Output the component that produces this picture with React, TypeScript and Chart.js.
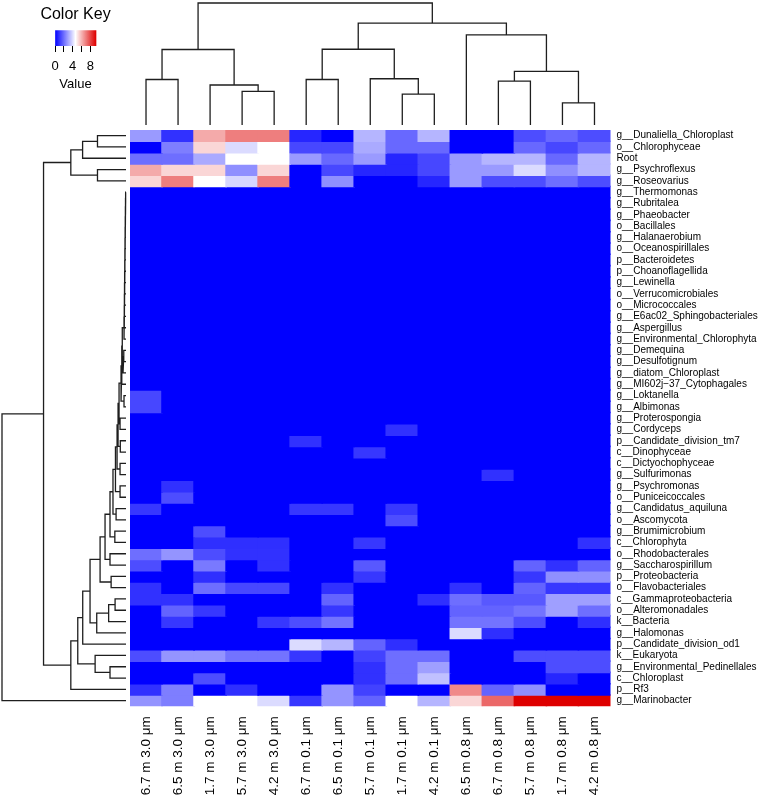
import React, { useEffect, useRef } from 'react';
import { Chart, registerables } from 'chart.js';

Chart.register(...registerables);

// ---------------- DATA ----------------
const colLabels: string[] = [
  '6.7 m 3.0 μm', '6.5 m 3.0 μm', '1.7 m 3.0 μm', '5.7 m 3.0 μm', '4.2 m 3.0 μm',
  '6.7 m 0.1 μm', '6.5 m 0.1 μm', '5.7 m 0.1 μm', '1.7 m 0.1 μm', '4.2 m 0.1 μm',
  '6.5 m 0.8 μm', '6.7 m 0.8 μm', '5.7 m 0.8 μm', '1.7 m 0.8 μm', '4.2 m 0.8 μm',
];

const rowLabels: string[] = [
  'g__Dunaliella_Chloroplast', 'o__Chlorophyceae', 'Root', 'g__Psychroflexus', 'g__Roseovarius',
  'g__Thermomonas', 'g__Rubritalea', 'g__Phaeobacter', 'o__Bacillales', 'g__Halanaerobium',
  'o__Oceanospirillales', 'p__Bacteroidetes', 'p__Choanoflagellida', 'g__Lewinella', 'o__Verrucomicrobiales',
  'o__Micrococcales', 'g__E6ac02_Sphingobacteriales', 'g__Aspergillus', 'g__Environmental_Chlorophyta', 'g__Demequina',
  'g__Desulfotignum', 'g__diatom_Chloroplast', 'g__MI602j\u221237_Cytophagales', 'g__Loktanella', 'g__Albimonas',
  'g__Proterospongia', 'g__Cordyceps', 'p__Candidate_division_tm7', 'c__Dinophyceae', 'c__Dictyochophyceae',
  'g__Sulfurimonas', 'g__Psychromonas', 'o__Puniceicoccales', 'g__Candidatus_aquiluna', 'o__Ascomycota',
  'g__Brumimicrobium', 'c__Chlorophyta', 'o__Rhodobacterales', 'g__Saccharospirillum', 'p__Proteobacteria',
  'o__Flavobacteriales', 'c__Gammaproteobacteria', 'o__Alteromonadales', 'k__Bacteria', 'g__Halomonas',
  'p__Candidate_division_od1', 'k__Eukaryota', 'g__Environmental_Pedinellales', 'c__Chloroplast', 'p__Rf3',
  'g__Marinobacter',
];

// one row per taxon, one value per sample (columns in colLabels order)
const cellValues: number[][] = [
  [2.8, 0.9, 6.2, 7.0, 7.0, 0.7, 0, 3.3, 1.9, 3.3, 0, 0, 1.4, 1.9, 1.4],
  [0, 2.3, 5.4, 4.0, 4.65, 1.3, 1.3, 3.1, 1.9, 1.9, 0, 0, 1.9, 1.3, 1.9],
  [2.0, 2.0, 3.1, 4.65, 4.65, 2.8, 1.9, 2.8, 0.7, 1.3, 2.8, 3.3, 3.3, 1.9, 3.3],
  [6.2, 5.4, 5.4, 2.6, 5.4, 0, 1.3, 0.7, 0.7, 1.3, 2.8, 2.8, 4.0, 2.6, 3.3],
  [5.4, 7.0, 4.65, 3.9, 7.0, 0, 2.6, 0, 0, 0.7, 2.8, 1.4, 1.4, 2.0, 1.4],
  [0, 0, 0, 0, 0, 0, 0, 0, 0, 0, 0, 0, 0, 0, 0],
  [0, 0, 0, 0, 0, 0, 0, 0, 0, 0, 0, 0, 0, 0, 0],
  [0, 0, 0, 0, 0, 0, 0, 0, 0, 0, 0, 0, 0, 0, 0],
  [0, 0, 0, 0, 0, 0, 0, 0, 0, 0, 0, 0, 0, 0, 0],
  [0, 0, 0, 0, 0, 0, 0, 0, 0, 0, 0, 0, 0, 0, 0],
  [0, 0, 0, 0, 0, 0, 0, 0, 0, 0, 0, 0, 0, 0, 0],
  [0, 0, 0, 0, 0, 0, 0, 0, 0, 0, 0, 0, 0, 0, 0],
  [0, 0, 0, 0, 0, 0, 0, 0, 0, 0, 0, 0, 0, 0, 0],
  [0, 0, 0, 0, 0, 0, 0, 0, 0, 0, 0, 0, 0, 0, 0],
  [0, 0, 0, 0, 0, 0, 0, 0, 0, 0, 0, 0, 0, 0, 0],
  [0, 0, 0, 0, 0, 0, 0, 0, 0, 0, 0, 0, 0, 0, 0],
  [0, 0, 0, 0, 0, 0, 0, 0, 0, 0, 0, 0, 0, 0, 0],
  [0, 0, 0, 0, 0, 0, 0, 0, 0, 0, 0, 0, 0, 0, 0],
  [0, 0, 0, 0, 0, 0, 0, 0, 0, 0, 0, 0, 0, 0, 0],
  [0, 0, 0, 0, 0, 0, 0, 0, 0, 0, 0, 0, 0, 0, 0],
  [0, 0, 0, 0, 0, 0, 0, 0, 0, 0, 0, 0, 0, 0, 0],
  [0, 0, 0, 0, 0, 0, 0, 0, 0, 0, 0, 0, 0, 0, 0],
  [0, 0, 0, 0, 0, 0, 0, 0, 0, 0, 0, 0, 0, 0, 0],
  [1.3, 0, 0, 0, 0, 0, 0, 0, 0, 0, 0, 0, 0, 0, 0],
  [1.3, 0, 0, 0, 0, 0, 0, 0, 0, 0, 0, 0, 0, 0, 0],
  [0, 0, 0, 0, 0, 0, 0, 0, 0, 0, 0, 0, 0, 0, 0],
  [0, 0, 0, 0, 0, 0, 0, 0, 0.9, 0, 0, 0, 0, 0, 0],
  [0, 0, 0, 0, 0, 0.9, 0, 0, 0, 0, 0, 0, 0, 0, 0],
  [0, 0, 0, 0, 0, 0, 0, 1.0, 0, 0, 0, 0, 0, 0, 0],
  [0, 0, 0, 0, 0, 0, 0, 0, 0, 0, 0, 0, 0, 0, 0],
  [0, 0, 0, 0, 0, 0, 0, 0, 0, 0, 0, 0.9, 0, 0, 0],
  [0, 0.9, 0, 0, 0, 0, 0, 0, 0, 0, 0, 0, 0, 0, 0],
  [0, 1.4, 0, 0, 0, 0, 0, 0, 0, 0, 0, 0, 0, 0, 0],
  [1.0, 0, 0, 0, 0, 1.0, 1.0, 0, 1.0, 0, 0, 0, 0, 0, 0],
  [0, 0, 0, 0, 0, 0, 0, 0, 1.4, 0, 0, 0, 0, 0, 0],
  [0, 0, 1.4, 0, 0, 0, 0, 0, 0, 0, 0, 0, 0, 0, 0],
  [0, 0, 0.85, 0.85, 0.85, 0, 0, 1.0, 0, 0, 0, 0, 0, 0, 0.9],
  [2.0, 2.7, 1.4, 0.9, 0.9, 0, 0, 0, 0, 0, 0, 0, 0, 0, 0],
  [1.4, 0, 2.2, 0, 0.9, 0, 0, 1.6, 0, 0, 0, 0, 1.8, 0.9, 1.8],
  [0, 0, 0.85, 0, 0, 0, 0, 1.0, 0, 0, 0, 0, 1.0, 2.6, 2.6],
  [0.9, 0, 2.0, 1.3, 1.3, 0, 0.9, 0, 0, 0, 0.9, 0, 1.8, 1.0, 1.0],
  [0.9, 0.9, 0, 0, 0, 0, 1.8, 0, 0, 0.85, 2.0, 1.6, 1.6, 2.9, 2.9],
  [0, 1.8, 1.0, 0, 0, 0, 1.0, 0, 0, 0, 1.8, 1.8, 2.1, 2.9, 2.0],
  [0, 1.0, 0, 0, 1.0, 1.4, 2.1, 0, 0, 0, 2.1, 2.1, 1.4, 0, 0.85],
  [0, 0, 0, 0, 0, 0, 0, 0, 0, 0, 4.0, 0.85, 0, 0, 0],
  [0, 0, 0, 0, 0, 4.0, 3.3, 1.8, 0.85, 0, 0, 0, 0, 0, 0],
  [1.4, 2.7, 2.7, 2.1, 2.1, 1.0, 0, 1.2, 2.0, 2.0, 0, 0, 1.4, 1.4, 1.4],
  [0, 0, 0, 0, 0, 0, 0, 0.9, 2.0, 2.9, 0, 0, 0, 1.4, 1.4],
  [0, 0, 1.4, 0, 0, 0, 0, 0.9, 2.0, 3.5, 0, 0, 0, 0.7, 0],
  [0.9, 2.3, 0, 0.85, 0, 0, 2.7, 1.2, 0, 0, 6.8, 1.8, 2.6, 0, 0],
  [2.7, 2.3, 4.65, 4.65, 4.0, 1.0, 2.7, 1.8, 4.65, 3.3, 5.4, 7.4, 9.3, 9.3, 9.3],
];

// hclust-style merges: [a, b, height]; negative = leaf (1-based), positive = earlier merge (1-based)
const colMerges: [number, number, number][] = [
  [-1, -2, 37.3], [-4, -5, 27.5], [-3, 2, 32.8], [1, 3, 61.9],
  [-6, -7, 37.3], [-9, -10, 25.3], [-8, 6, 37.9], [5, 7, 62.1],
  [-12, -13, 36.0], [-14, -15, 18.1], [9, 10, 44.0], [-11, 11, 73.9],
  [8, 12, 83.5], [4, 13, 100],
];

const rowMerges: [number, number, number][] = [
  [-1, -2, 23], [1, -3, 35], [-4, -5, 23], [2, 3, 44.5],
  [-6, -7, 0.3], [5, -8, 0.4], [6, -9, 0.5], [7, -10, 0.6], [8, -11, 0.7],
  [9, -12, 0.8], [10, -13, 0.9], [11, -14, 1.0], [12, -15, 1.1], [13, -16, 1.2],
  [14, -17, 1.3], [15, -18, 1.4], [16, -19, 1.6], [-20, -21, 1.8], [18, -22, 2.4],
  [17, 19, 3.0], [20, -23, 3.4], [-24, -25, 1.6], [21, 22, 4.0], [-26, -27, 4.8],
  [23, 24, 5.6], [-28, -29, 4.6], [25, 26, 6.4], [-30, -31, 4.8], [27, 28, 7.2],
  [-32, -33, 4.8], [29, 30, 8.5], [-34, -35, 8.0], [31, 32, 10.5], [-36, -37, 9.0],
  [33, 34, 12.9], [-38, -39, 12.9], [35, 36, 16.9], [-40, -41, 12.0], [37, 38, 20.9],
  [-42, -43, 8.8], [40, -44, 14.0], [41, -45, 23.6], [39, 42, 29.0], [43, -46, 34.9],
  [-48, -49, 12.9], [-47, 45, 24.9], [44, 46, 38.9], [47, -50, 44.5], [4, 48, 66.5],
  [49, -51, 100],
];

const keyTicks: number[] = [0, 2, 4, 6, 8];
const keyTickLabels: string[] = ['0', '', '4', '', '8'];
const VMAX = 9.3;

// ---------------- STYLE / GEOMETRY ----------------
const W = 777;
const H = 802;
const HEAT_LEFT = 130;
const HEAT_RIGHT = 610.5;
const HEAT_TOP = 130;
const HEAT_BOTTOM = 706.3;
const FONT = '"Liberation Sans", Arial, Helvetica, sans-serif';
const nCols = colLabels.length;
const nRows = rowLabels.length;
const colPx = (HEAT_RIGHT - HEAT_LEFT) / nCols;
const rowPx = (HEAT_BOTTOM - HEAT_TOP) / nRows;

// colour key canvas placement (page px) and key bar position inside it
const KEY_LEFT = 21;
const KEY_W = 109;
const KEY_H = 100;
const KEY_BAR_L = 55 - KEY_LEFT;
const KEY_BAR_R = 96 - KEY_LEFT;
const keyPxPerUnit = (KEY_BAR_R - KEY_BAR_L) / VMAX;

function heatColor(v: number): string {
  const t = Math.max(0, Math.min(1, v / VMAX));
  if (t <= 0.5) {
    const c = Math.round(255 * (t / 0.5));
    return `rgb(${c},${c},255)`;
  }
  const s = (t - 0.5) / 0.5;
  const r = Math.round(255 - 33 * s);
  const gb = Math.round(255 * (1 - s));
  return `rgb(${r},${gb},${gb})`;
}

type Seg = [number, number, number, number, number];
function dendroSegments(merges: [number, number, number][]): Seg[] {
  const pos: number[] = [];
  const hgt: number[] = [];
  const segs: Seg[] = [];
  const get = (id: number) => (id < 0 ? { p: -id - 0.5, h: 0 } : { p: pos[id - 1], h: hgt[id - 1] });
  merges.forEach(([a, b, h], i) => {
    const A = get(a);
    const B = get(b);
    pos[i] = (A.p + B.p) / 2;
    hgt[i] = h;
    segs.push([A.p, A.h, B.p, B.h, h]);
  });
  return segs;
}

// top dendrogram: height 0 -> y pixel 125, 100 -> y pixel 3
const topY = (h: number) => (125 - (h / 100) * 122 - HEAT_TOP) / rowPx;
// left dendrogram: height 0 -> x pixel 126, 100 -> x pixel 2
const leftX = (h: number) => (126 - (h / 100) * 124 - HEAT_LEFT) / colPx;

function topPoints() {
  const pts: { x: number | null; y: number | null }[] = [];
  dendroSegments(colMerges).forEach(([p1, h1, p2, h2, h]) => {
    pts.push({ x: p1, y: topY(h1) }, { x: p1, y: topY(h) }, { x: p2, y: topY(h) }, { x: p2, y: topY(h2) }, { x: null, y: null });
  });
  return pts;
}
function leftPoints() {
  const pts: { x: number | null; y: number | null }[] = [];
  dendroSegments(rowMerges).forEach(([p1, h1, p2, h2, h]) => {
    pts.push({ x: leftX(h1), y: p1 }, { x: leftX(h), y: p1 }, { x: leftX(h), y: p2 }, { x: leftX(h2), y: p2 }, { x: null, y: null });
  });
  return pts;
}

export default function App() {
  const mainRef = useRef<HTMLCanvasElement>(null);
  const keyRef = useRef<HTMLCanvasElement>(null);

  useEffect(() => {
    const heatDatasets: any[] = rowLabels.map((_, r) => ({
      type: 'bar',
      data: colLabels.map((__, c) => ({ x: c + 0.5, y: [r, r + 1] })),
      backgroundColor: cellValues[r].map(heatColor),
      borderWidth: 0,
      barPercentage: 1,
      categoryPercentage: 1,
      grouped: false,
      inflateAmount: 0.8,
    }));
    const lineStyle = {
      type: 'line',
      borderColor: '#1e1e1e',
      borderWidth: 1.3,
      pointRadius: 0,
      pointHoverRadius: 0,
      spanGaps: false,
      clip: false,
      fill: false,
      tension: 0,
    };
    const main = new Chart(mainRef.current!, {
      type: 'bar',
      data: {
        datasets: [
          ...heatDatasets,
          { ...lineStyle, data: topPoints() },
          { ...lineStyle, data: leftPoints() },
        ] as any,
      },
      options: {
        animation: false,
        responsive: false,
        events: [],
        layout: { padding: { left: HEAT_LEFT, top: HEAT_TOP, right: 0, bottom: 0 } },
        plugins: { legend: { display: false }, tooltip: { enabled: false }, title: { display: false } },
        scales: {
          x: {
            type: 'linear',
            min: 0,
            max: nCols,
            offset: false,
            position: 'bottom',
            grid: { display: false, drawTicks: false, offset: false },
            border: { display: false },
            afterBuildTicks: (axis: any) => {
              axis.ticks = colLabels.map((_, i) => ({ value: i + 0.5 }));
            },
            afterFit: (axis: any) => {
              axis.height = H - HEAT_BOTTOM;
            },
            ticks: {
              autoSkip: false,
              minRotation: 90,
              maxRotation: 90,
              padding: 10,
              color: '#000',
              font: { family: FONT, size: 13.5 },
              callback: (_v: any, i: number) => colLabels[i],
            },
          },
          y: {
            type: 'linear',
            min: 0,
            max: nRows,
            offset: false,
            reverse: true,
            position: 'right',
            grid: { display: false, drawTicks: false },
            border: { display: false },
            afterBuildTicks: (axis: any) => {
              axis.ticks = rowLabels.map((_, i) => ({ value: i + 0.5 }));
            },
            afterFit: (axis: any) => {
              axis.width = W - HEAT_RIGHT;
            },
            ticks: {
              autoSkip: false,
              padding: 6,
              color: '#000',
              font: { family: FONT, size: 10 },
              callback: (_v: any, i: number) => rowLabels[i],
            },
          },
        },
      } as any,
    });

    const key = new Chart(keyRef.current!, {
      type: 'bar',
      data: {
        labels: [''],
        datasets: [
          {
            data: [[0, VMAX]],
            backgroundColor: (ctx: any) => {
              const chart = ctx.chart;
              const xs = chart.scales.x;
              if (!xs || !chart.chartArea) return heatColor(0);
              const x0 = xs.getPixelForValue(0);
              const x1 = xs.getPixelForValue(VMAX);
              const g = chart.ctx.createLinearGradient(x0, 0, x1, 0);
              g.addColorStop(0, heatColor(0));
              g.addColorStop(0.5, heatColor(VMAX / 2));
              g.addColorStop(1, heatColor(VMAX));
              return g;
            },
            borderWidth: 0,
            barPercentage: 1,
            categoryPercentage: 1,
          },
        ] as any,
      },
      options: {
        indexAxis: 'y',
        animation: false,
        responsive: false,
        events: [],
        layout: { padding: { left: 0, right: 0, top: 0, bottom: 8 } },
        plugins: {
          legend: { display: false },
          tooltip: { enabled: false },
          title: {
            display: true,
            text: 'Color Key',
            color: '#000',
            font: { family: FONT, size: 16, weight: 'normal' },
            padding: { top: 5, bottom: 6 },
          },
        },
        scales: {
          x: {
            type: 'linear',
            min: -KEY_BAR_L / keyPxPerUnit,
            max: VMAX + (KEY_W - KEY_BAR_R) / keyPxPerUnit,
            offset: false,
            grid: { display: true, drawOnChartArea: false, drawTicks: true, tickLength: 6, color: '#000', lineWidth: 1 },
            border: { display: false },
            afterBuildTicks: (axis: any) => {
              axis.ticks = keyTicks.map((v) => ({ value: v }));
            },
            ticks: {
              autoSkip: false,
              maxRotation: 0,
              padding: 7,
              color: '#000',
              font: { family: FONT, size: 13 },
              callback: (_v: any, i: number) => keyTickLabels[i],
            },
            title: {
              display: true,
              text: 'Value',
              color: '#000',
              font: { family: FONT, size: 13 },
              padding: { top: 2, bottom: 0 },
            },
          },
          y: { display: false },
        },
      } as any,
    });

    return () => {
      main.destroy();
      key.destroy();
    };
  }, []);

  return (
    <div style={{ position: 'absolute', left: 0, top: 0, width: W, height: H, background: '#fff' }}>
      <canvas ref={mainRef} width={W} height={H} style={{ position: 'absolute', left: 0, top: 0 }} />
      <canvas ref={keyRef} width={KEY_W} height={KEY_H} style={{ position: 'absolute', left: KEY_LEFT, top: 0 }} />
    </div>
  );
}
